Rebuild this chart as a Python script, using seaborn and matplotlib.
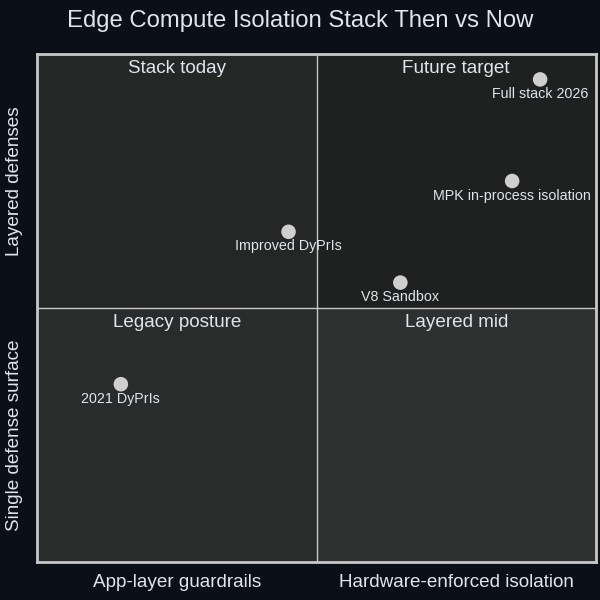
import matplotlib
matplotlib.use("Agg")
import matplotlib.pyplot as plt
import pandas as pd
import seaborn as sns

# Data
names = ["Full stack 2026", "MPK in-process isolation", "Improved DyPrIs", "V8 Sandbox", "2021 DyPrIs"]
x_vals = [0.90, 0.85, 0.45, 0.65, 0.15]
y_vals = [0.95, 0.75, 0.65, 0.55, 0.35]

quadrant_names = ["Stack today", "Future target", "Legacy posture", "Layered mid"]
x_axis_labels = ["App-layer guardrails", "Hardware-enforced isolation"]
y_axis_labels = ["Single defense surface", "Layered defenses"]
title = "Edge Compute Isolation Stack Then vs Now"

df = pd.DataFrame({"name": names, "x": x_vals, "y": y_vals})

sns.set_theme(style="dark")
plt.rcParams["font.family"] = ["Liberation Sans", "DejaVu Sans"]

bg = "#0b0f17"
text_col = "#dfe5ec"
fig = plt.figure(figsize=(6, 6), dpi=100, facecolor=bg)
ax = fig.add_axes([37 / 600, 38 / 600, 559 / 600, 508 / 600])
ax.set_xlim(0, 1)
ax.set_ylim(0, 1)

# quadrant backgrounds
quad_colors = {(0, 1): "#252626", (1, 1): "#1f2020", (0, 0): "#2a2b2b", (1, 0): "#2f3030"}
for (qx, qy), c in quad_colors.items():
    ax.add_patch(plt.Rectangle((qx * 0.5, qy * 0.5), 0.5, 0.5, color=c, zorder=0, lw=0))
ax.axvline(0.5, color="#c8c8c8", lw=1, zorder=1)
ax.axhline(0.5, color="#c8c8c8", lw=1, zorder=1)

for spine in ax.spines.values():
    spine.set_color("#c8c8c8")
    spine.set_linewidth(2)
ax.set_xticks([])
ax.set_yticks([])

sns.scatterplot(data=df, x="x", y="y", ax=ax, color="#cfcfcf", s=110,
                edgecolor="none", zorder=3, legend=False)
ax.set_xlabel("")
ax.set_ylabel("")
for _, r in df.iterrows():
    ax.annotate(r["name"], (r["x"], r["y"]), xytext=(0, -5.5), textcoords="offset points",
                ha="center", va="top", fontsize=10.3, color=text_col, zorder=4)

# quadrant labels
quad_pos = [(0.25, 1), (0.75, 1), (0.25, 0.5), (0.75, 0.5)]
for name, (qx, qy) in zip(quadrant_names, quad_pos):
    ax.text(qx, qy - 0.012, name, ha="center", va="top", fontsize=13.6, color=text_col)

for lab, px in zip(x_axis_labels, [0.25, 0.75]):
    ax.text(px, -0.04, lab, transform=ax.transAxes, ha="center", va="center",
            fontsize=13.6, color=text_col)
for lab, py in zip(y_axis_labels, [0.25, 0.75]):
    ax.text(-0.041, py, lab, transform=ax.transAxes, ha="center", va="center",
            rotation=90, fontsize=13.6, color=text_col)

fig.text(0.5, 1 - 21 / 600, title, ha="center", va="center", fontsize=17.2, color=text_col)

fig.savefig("out.png", dpi=100, facecolor=bg)
